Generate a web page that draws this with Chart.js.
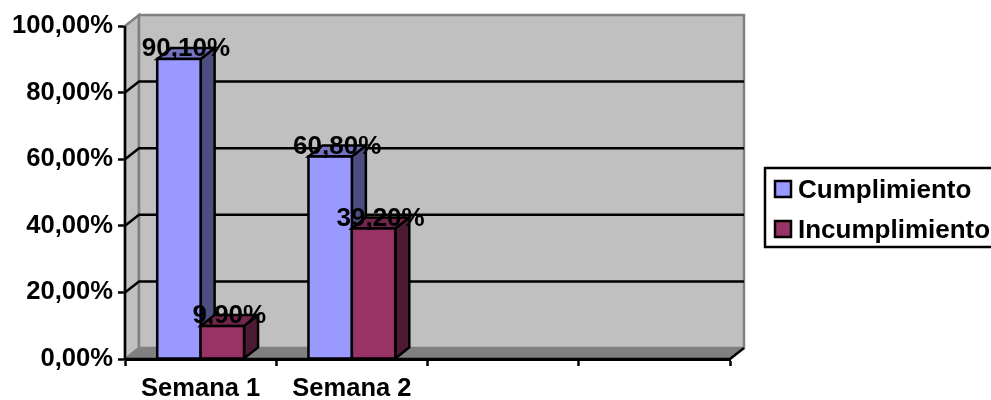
<!DOCTYPE html>
<html>
<head>
<meta charset="utf-8">
<title>Cumplimiento</title>
<style>
  html, body { margin: 0; padding: 0; background: #fff; overflow: hidden; }
  canvas { display: block; }
</style>
<script src="https://cdn.jsdelivr.net/npm/chart.js@4/dist/chart.umd.min.js"></script>
</head>
<body>
<canvas id="chart" width="991" height="400"></canvas>
<script>
const categories = ["Semana 1", "Semana 2", "", ""];
const cumplimiento = [90.1, 60.8, null, null];
const incumplimiento = [9.9, 39.2, null, null];
const tickLabels = ["0,00%", "20,00%", "40,00%", "60,00%", "80,00%", "100,00%"];

const FONT = "bold 26px 'Liberation Sans', Arial, sans-serif";
const DX = 14, DY = 11; // depth of the fake 3d
const LINE = 2.5;

function poly(ctx, pts, fill, stroke, lw) {
  ctx.beginPath();
  pts.forEach((p, i) => (i ? ctx.lineTo(p[0], p[1]) : ctx.moveTo(p[0], p[1])));
  ctx.closePath();
  if (fill) { ctx.fillStyle = fill; ctx.fill(); }
  if (stroke) { ctx.strokeStyle = stroke; ctx.lineWidth = lw; ctx.stroke(); }
}

function eachBar(chart, index, fn) {
  chart.getDatasetMeta(index).data.forEach((bar, i) => {
    if (chart.data.datasets[index].data[i] != null) fn(bar, i);
  });
}

const walls = {
  id: "walls",
  beforeDatasetsDraw(chart) {
    const { ctx, chartArea: a, scales } = chart;
    ctx.save();
    // floor, side wall, back wall
    poly(ctx, [[a.left, a.top], [a.left + DX, a.top - DY], [a.left + DX, a.bottom - DY], [a.left, a.bottom]], "#c0c0c0", "#808080", LINE);
    poly(ctx, [[a.left + DX, a.top - DY], [a.right + DX, a.top - DY], [a.right + DX, a.bottom - DY], [a.left + DX, a.bottom - DY]], "#c0c0c0", "#808080", LINE);
    poly(ctx, [[a.left, a.bottom], [a.left + DX, a.bottom - DY], [a.right + DX, a.bottom - DY], [a.right, a.bottom]], "#808080", "#808080", 1);
    // gridlines run along both walls
    ctx.strokeStyle = "#000";
    ctx.lineWidth = LINE;
    scales.y.ticks.forEach(t => {
      const y = scales.y.getPixelForValue(t.value);
      if (t.value === 0 || t.value === 100) return;
      ctx.beginPath();
      ctx.moveTo(a.left, y);
      ctx.lineTo(a.left + DX, y - DY);
      ctx.lineTo(a.right + DX, y - DY);
      ctx.stroke();
    });
    // front edge of the floor
    ctx.beginPath();
    ctx.moveTo(a.left, a.top);
    ctx.lineTo(a.left, a.bottom);
    ctx.lineTo(a.right, a.bottom);
    ctx.lineTo(a.right + DX, a.bottom - DY);
    ctx.stroke();
    ctx.restore();
  },
  // the default order paints the first dataset last, so bars are painted by hand below
  beforeDatasetDraw() {
    return false;
  },
  afterDatasetsDraw(chart) {
    const { ctx } = chart;
    ctx.save();
    chart.data.datasets.forEach((ds, index) => {
      eachBar(chart, index, bar => {
        const l = bar.x - bar.width / 2, r = bar.x + bar.width / 2;
        poly(ctx, [[r, bar.y], [r + DX, bar.y - DY], [r + DX, bar.base - DY], [r, bar.base]], ds.sideColor, "#000", LINE);
        poly(ctx, [[l, bar.y], [l + DX, bar.y - DY], [r + DX, bar.y - DY], [r, bar.y]], ds.topColor, "#000", LINE);
        bar.draw(ctx);
        ctx.strokeStyle = "#000";
        ctx.lineWidth = LINE;
        ctx.strokeRect(l, bar.y, bar.width, bar.base - bar.y);
      });
    });

    ctx.font = FONT;
    ctx.fillStyle = "#000";
    ctx.textAlign = "center";
    ctx.textBaseline = "middle";
    chart.data.datasets.forEach((ds, index) => {
      eachBar(chart, index, (bar, i) => {
        const text = ds.data[i].toFixed(2).replace(".", ",") + "%";
        ctx.fillText(text, bar.x + DX / 2, bar.y - DY + 1);
      });
    });

    // legend box, runs off the right edge like the original
    ctx.strokeStyle = "#000";
    ctx.lineWidth = LINE;
    ctx.strokeRect(765, 168, 240, 79);
    ctx.textAlign = "left";
    chart.data.datasets.forEach((ds, index) => {
      const y = 189 + index * 40;
      ctx.fillStyle = ds.backgroundColor;
      ctx.fillRect(775, y - 8, 16, 16);
      ctx.strokeRect(775, y - 8, 16, 16);
      ctx.fillStyle = "#000";
      ctx.fillText(ds.label, 798, y + 2);
    });
    ctx.restore();
  }
};

new Chart(document.getElementById("chart"), {
  type: "bar",
  data: {
    labels: categories,
    datasets: [
      { label: "Cumplimiento", data: cumplimiento, backgroundColor: "#9999ff", sideColor: "#4d4d80", topColor: "#7373bf" },
      { label: "Incumplimiento", data: incumplimiento, backgroundColor: "#993366", sideColor: "#4d1a33", topColor: "#73264d" }
    ]
  },
  options: {
    responsive: false,
    animation: false,
    layout: { padding: { top: 26, right: 261, left: 0, bottom: 0 } },
    datasets: { bar: { barPercentage: 1, categoryPercentage: 0.574, borderWidth: 0 } },
    plugins: { legend: { display: false }, tooltip: { enabled: false } },
    scales: {
      x: {
        afterFit: s => { s.height = 41; },
        border: { color: "#000", width: 3 },
        grid: { drawOnChartArea: false, color: "#000", tickColor: "#000", tickWidth: 2.5, tickLength: 7 },
        ticks: { color: "#000", font: { family: "'Liberation Sans', Arial, sans-serif", size: 25.5, weight: "bold" }, padding: 8, maxRotation: 0, autoSkip: false }
      },
      y: {
        min: 0,
        max: 100,
        afterFit: s => { s.width = 125; },
        border: { color: "#000", width: 3 },
        grid: { drawOnChartArea: false, color: "#000", tickColor: "#000", tickWidth: 2.5, tickLength: 7 },
        ticks: {
          stepSize: 20,
          color: "#000",
          font: { family: "'Liberation Sans', Arial, sans-serif", size: 25.6, weight: "bold" },
          padding: 5,
          callback: (value, index) => tickLabels[index]
        }
      }
    }
  },
  plugins: [walls]
});
</script>
</body>
</html>
